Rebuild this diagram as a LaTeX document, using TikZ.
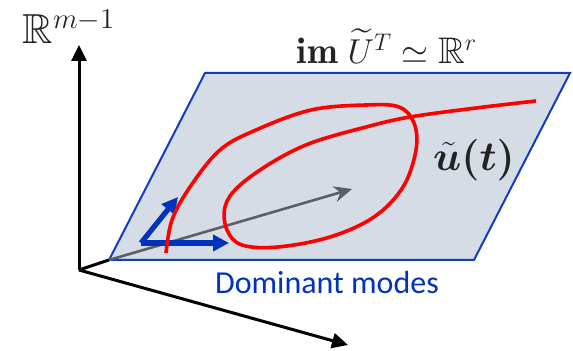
\documentclass[tikz,border=0pt]{standalone}
\usepackage{amsmath}
\usepackage{amssymb}
\usepackage{bm}
\usepackage{fontspec}
\setsansfont{Carlito}
\usetikzlibrary{arrows.meta}
\definecolor{planefill}{RGB}{214,220,229}
\definecolor{planeblue}{RGB}{20,60,190}
\definecolor{modeblue}{RGB}{0,50,190}
\definecolor{trajred}{RGB}{255,0,0}
\definecolor{axgray}{RGB}{90,95,102}
\definecolor{inkgray}{RGB}{35,35,35}

\begin{document}
\begin{tikzpicture}[x=0.5pt,y=-0.5pt,
  ax/.style={line width=1.5pt,-{Triangle[length=8pt,width=7.5pt]}},
  mode/.style={draw=modeblue,line width=2.6pt,-{Triangle[length=8pt,width=8pt]}},
  lbl/.style={text=inkgray,inner sep=0pt}]
  \useasboundingbox (0,0) rectangle (573,351);
  % axes and plane corners
  \coordinate (o) at (79,270);
  \coordinate (up) at (79,45);
  \coordinate (fw) at (348,345);
  \coordinate (p1) at (109,260);
  \coordinate (p2) at (474,260);
  \coordinate (p3) at (570,73);
  \coordinate (p4) at (205,73);
  \coordinate (g) at (352,189);
  \coordinate (b) at (141,243);
  \coordinate (b1) at (229,243);
  \coordinate (b2) at (178,197);

  \fill[planefill] (p1) -- (p2) -- (p3) -- (p4) -- cycle;
  \draw[planeblue,line width=1pt] (p1) -- (p2) -- (p3) -- (p4) -- cycle;
  \draw[ax] (o) -- (up);
  \draw[ax] (o) -- (fw);
  \draw[line width=1.5pt] (o) -- (p1);
  \draw[axgray,line width=1.3pt,-{Stealth[length=9pt,width=8pt]}] (p1) -- (g);
  \draw[mode] (b) -- (b1);
  \draw[mode] (b) -- (b2);

  % trajectory
  \draw[trajred,line width=1.8pt] plot[smooth,tension=0.6] coordinates {
    (166,253) (172,220) (190,187) (220,150) (256,130) (311,110) (366,105)
    (399,107) (414,123) (416,150) (403,187) (374,217) (330,237) (278,247)
    (242,245) (227,230) (225,207) (238,187) (271,163) (311,143) (366,127)
    (410,117) (476,108) (536,101)};

  \node[lbl,font=\fontsize{21}{24}\selectfont] (rm) at (69,27) {$\mathbb{R}^{m-1}$};
  \node[lbl,font=\fontsize{18.5}{21}\selectfont] (im) at (387,46)
    {$\mathbf{im}\;\widetilde{U}^{T} \simeq \mathbb{R}^{r}$};
  \node[lbl,font=\fontsize{21.5}{24}\selectfont] (ut) at (474,160) {$\bm{\tilde{u}(t)}$};
  \node[text=modeblue,inner sep=0pt,font=\sffamily\fontsize{16}{18}\selectfont] (dm)
    at (327,283) {Dominant modes};
\end{tikzpicture}
\end{document}
